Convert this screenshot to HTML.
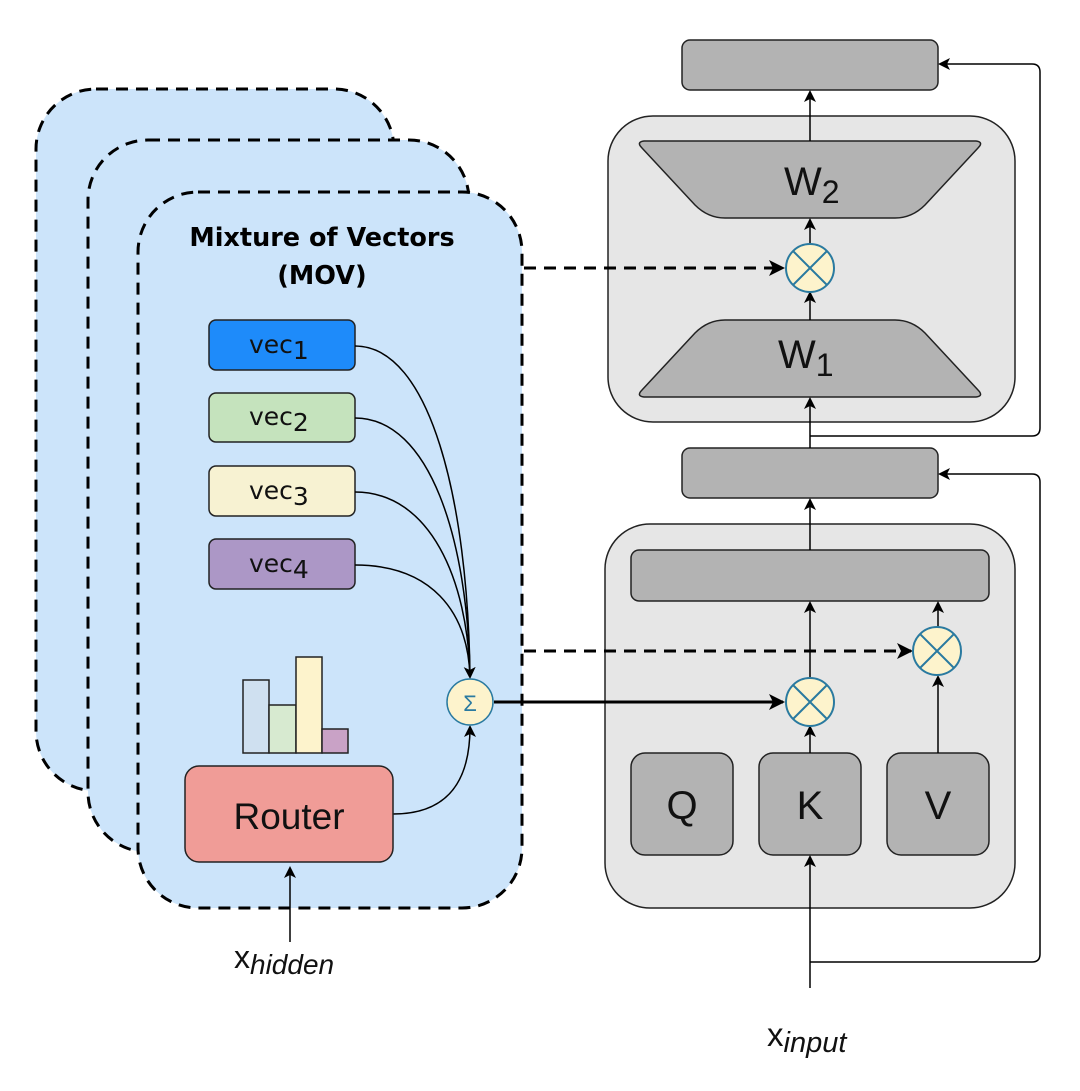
<!DOCTYPE html>
<html><head><meta charset="utf-8"><style>html,body{margin:0;padding:0;background:#fff}svg{display:block}</style></head>
<body>
<svg width="1080" height="1091" viewBox="0 0 1080 1091" xmlns="http://www.w3.org/2000/svg" font-family="Liberation Sans, sans-serif">
<defs>
<marker id="a" markerWidth="12" markerHeight="12" refX="10" refY="6" orient="auto" markerUnits="userSpaceOnUse"><path d="M0,0 L12,6 L0,12 L3,6 Z" fill="#000"/></marker>
<marker id="b" markerWidth="16" markerHeight="16" refX="14" refY="8" orient="auto" markerUnits="userSpaceOnUse"><path d="M0,0 L16,8 L0,16 L4,8 Z" fill="#000"/></marker>
</defs>
<rect x="36" y="89" width="358" height="702" rx="60" fill="#cce4fa" stroke="#000" stroke-width="3" stroke-dasharray="12,8"/>
<rect x="88" y="140" width="381" height="712" rx="60" fill="#cce4fa" stroke="#000" stroke-width="3" stroke-dasharray="12,8"/>
<rect x="138" y="192" width="384" height="716" rx="60" fill="#cce4fa" stroke="#000" stroke-width="3" stroke-dasharray="12,8"/>
<text x="322" y="246" font-size="25.5" font-weight="bold" text-anchor="middle" font-family="DejaVu Sans, sans-serif">Mixture of Vectors</text>
<text x="322" y="284" font-size="25.5" font-weight="bold" text-anchor="middle" font-family="DejaVu Sans, sans-serif">(MOV)</text>
<rect x="209" y="320" width="146" height="50" rx="7" fill="#1e8bfa" stroke="#222" stroke-width="1.5"/>
<rect x="209" y="393" width="146" height="49" rx="7" fill="#c5e3bd" stroke="#222" stroke-width="1.5"/>
<rect x="209" y="466" width="146" height="50" rx="7" fill="#f7f2d2" stroke="#222" stroke-width="1.5"/>
<rect x="209" y="539" width="146" height="50" rx="7" fill="#ac97c6" stroke="#222" stroke-width="1.5"/>
<g font-size="25" font-family="DejaVu Sans, sans-serif" fill="#111">
<text x="249" y="353">vec<tspan dy="6">1</tspan></text>
<text x="249" y="425">vec<tspan dy="6">2</tspan></text>
<text x="249" y="499">vec<tspan dy="6">3</tspan></text>
<text x="249" y="572">vec<tspan dy="6">4</tspan></text>
</g>
<g fill="none" stroke="#000" stroke-width="1.5">
<path d="M355,346 C430,346 468,500 470,677"/>
<path d="M355,418 C430,418 468,540 470,677"/>
<path d="M355,492 C430,492 468,580 470,677"/>
<path d="M355,565 C430,565 468,610 470,677" marker-end="url(#a)"/>
<path d="M393,814 C440,814 470,790 470,727" marker-end="url(#a)"/>
<path d="M290,942 L290,868" marker-end="url(#a)"/>
</g>
<g stroke="#222" stroke-width="1.5">
<rect x="243" y="680" width="26" height="73" fill="#cfe0f0"/>
<rect x="269" y="705" width="27" height="48" fill="#d7ead0"/>
<rect x="296" y="657" width="26" height="96" fill="#fdf3cc"/>
<rect x="322" y="729" width="26" height="24" fill="#c9a2c6"/>
</g>
<rect x="185" y="766" width="208" height="96" rx="14" fill="#f09c97" stroke="#222" stroke-width="1.5"/>
<text x="289" y="829" font-size="37" text-anchor="middle" fill="#111">Router</text>
<circle cx="470" cy="702" r="23" fill="#fdf3cc" stroke="#2a7aa0" stroke-width="1.5"/>
<text x="470" y="711" font-size="22" text-anchor="middle" fill="#2a7aa0">Σ</text>
<text x="234" y="968" font-size="32" fill="#111">x<tspan font-style="italic" font-size="28" dy="6">hidden</tspan></text>
<rect x="682" y="40" width="256" height="50" rx="8" fill="#b3b3b3" stroke="#222" stroke-width="1.5"/>
<rect x="608" y="116" width="407" height="306" rx="45" fill="#e6e6e6" stroke="#222" stroke-width="1.5"/>
<path d="M644,141 L976,141 Q984,142 978,148 L925,205 Q912,218 895,218 L725,218 Q708,218 695,205 L642,148 Q636,142 644,141 Z" fill="#b3b3b3" stroke="#222" stroke-width="1.5"/>
<path d="M644,397 L976,397 Q984,396 978,390 L925,333 Q912,320 895,320 L725,320 Q708,320 695,333 L642,390 Q636,396 644,397 Z" fill="#b3b3b3" stroke="#222" stroke-width="1.5"/>
<text x="784" y="195" font-size="40" fill="#111">W<tspan font-size="32" dy="8">2</tspan></text>
<text x="778" y="368" font-size="40" fill="#111">W<tspan font-size="32" dy="8">1</tspan></text>
<rect x="682" y="448" width="256" height="50" rx="8" fill="#b3b3b3" stroke="#222" stroke-width="1.5"/>
<rect x="605" y="524" width="410" height="384" rx="45" fill="#e6e6e6" stroke="#222" stroke-width="1.5"/>
<rect x="631" y="550" width="358" height="51" rx="8" fill="#b3b3b3" stroke="#222" stroke-width="1.5"/>
<rect x="631" y="753" width="102" height="102" rx="14" fill="#b3b3b3" stroke="#222" stroke-width="1.5"/>
<rect x="759" y="753" width="102" height="102" rx="14" fill="#b3b3b3" stroke="#222" stroke-width="1.5"/>
<rect x="887" y="753" width="102" height="102" rx="14" fill="#b3b3b3" stroke="#222" stroke-width="1.5"/>
<g font-size="40" text-anchor="middle" fill="#111">
<text x="682" y="819">Q</text><text x="810" y="819">K</text><text x="938" y="819">V</text>
</g>
<text x="767" y="1046" font-size="33" fill="#111">x<tspan font-style="italic" font-size="29" dy="6">input</tspan></text>
<g fill="none" stroke="#000" stroke-width="1.5">
<path d="M810,988 L810,857" marker-end="url(#a)"/>
<path d="M810,962 L1032,962 Q1040,962 1040,954 L1040,482 Q1040,474 1032,474 L940,474" marker-end="url(#a)"/>
<path d="M810,753 L810,727" marker-end="url(#a)"/>
<path d="M810,677 L810,603" marker-end="url(#a)"/>
<path d="M938,753 L938,677" marker-end="url(#a)"/>
<path d="M938,627 L938,603" marker-end="url(#a)"/>
<path d="M810,550 L810,500" marker-end="url(#a)"/>
<path d="M810,448 L810,399" marker-end="url(#a)"/>
<path d="M810,436 L1032,436 Q1040,436 1040,428 L1040,72 Q1040,64 1032,64 L940,64" marker-end="url(#a)"/>
<path d="M810,320 L810,293" marker-end="url(#a)"/>
<path d="M810,243 L810,220" marker-end="url(#a)"/>
<path d="M810,141 L810,92" marker-end="url(#a)"/>
</g>
<path d="M494,702 L783,702" stroke="#000" stroke-width="3" fill="none" marker-end="url(#b)"/>
<path d="M524,268 L783,268" stroke="#000" stroke-width="3" stroke-dasharray="12,8" fill="none" marker-end="url(#b)"/>
<path d="M524,651 L911,651" stroke="#000" stroke-width="3" stroke-dasharray="12,8" fill="none" marker-end="url(#b)"/>
<g fill="#fdf3cc" stroke="#2a7aa0" stroke-width="2">
<circle cx="810" cy="268" r="24"/><path d="M793,251 L827,285 M827,251 L793,285"/>
<circle cx="810" cy="702" r="24"/><path d="M793,685 L827,719 M827,685 L793,719"/>
<circle cx="937" cy="651" r="24"/><path d="M920,634 L954,668 M954,634 L920,668"/>
</g>
</svg>
</body></html>
